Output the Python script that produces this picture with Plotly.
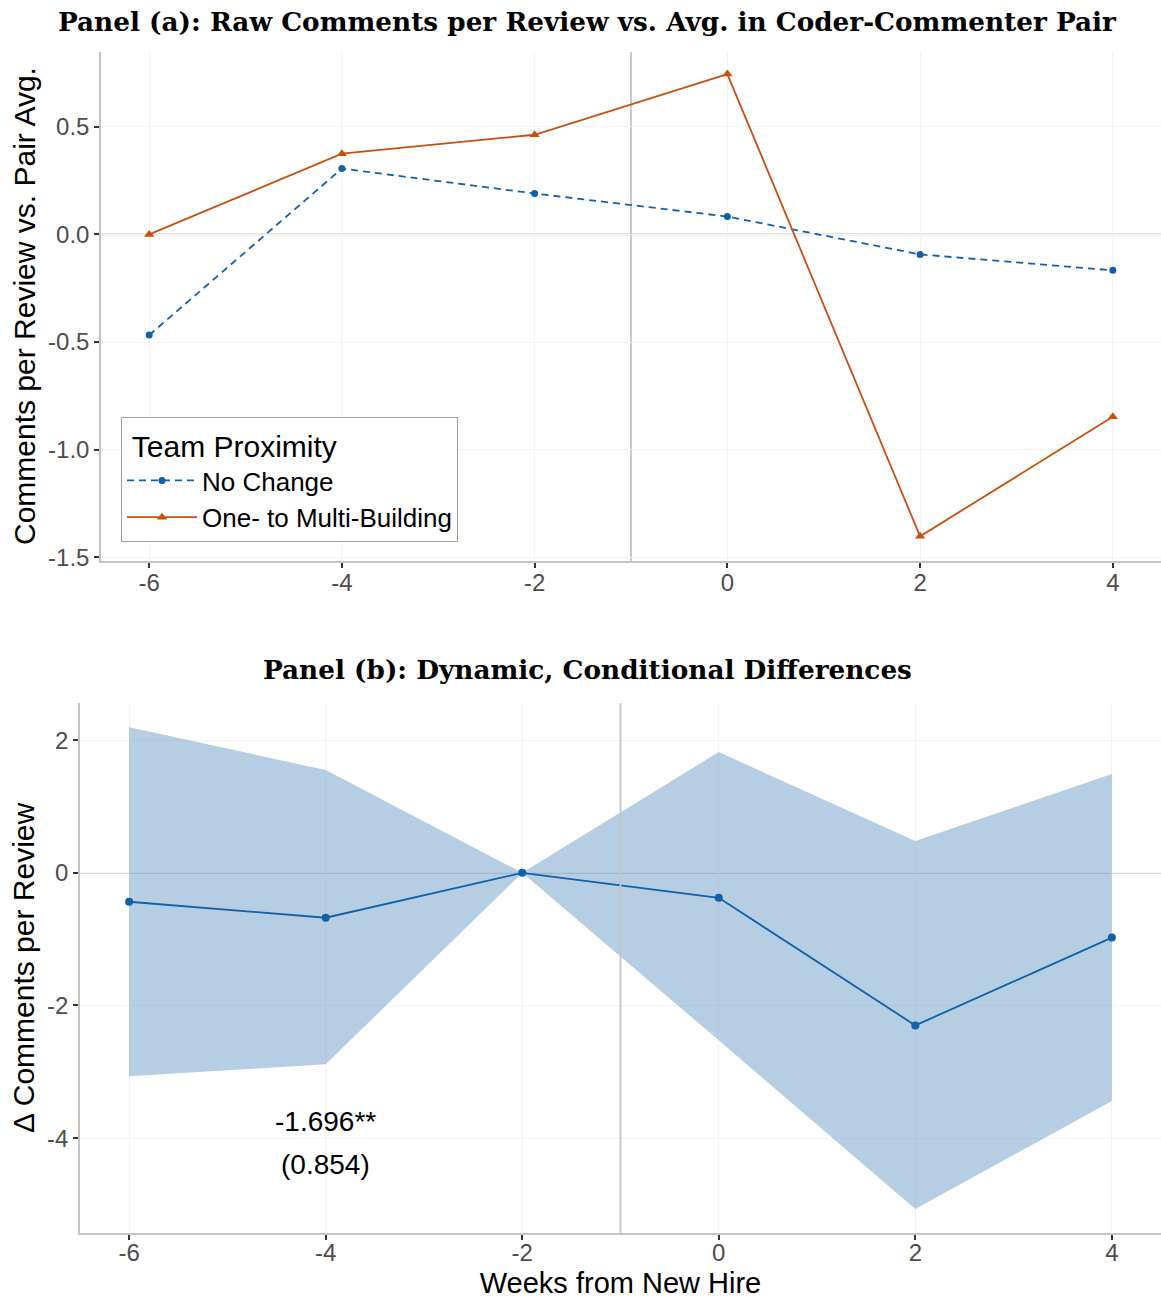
import plotly.graph_objects as go

weeks = [-6, -4, -2, 0, 2, 4]
no_change = [-0.468, 0.306, 0.190, 0.083, -0.093, -0.167]
multi_building = [0.0, 0.375, 0.463, 0.745, -1.403, -0.847]

coef = [-0.436, -0.677, 0.0, -0.376, -2.30, -0.977]
ci_upper = [2.195, 1.549, 0.0, 1.82, 0.481, 1.489]
ci_lower = [-3.068, -2.887, 0.0, -2.526, -5.068, -3.44]

ticks_a = [0.5, 0.0, -0.5, -1.0, -1.5]
tick_labels_a = ["0.5", "0.0", "-0.5", "-1.0", "-1.5"]
ticks_b = [2, 0, -2, -4]
tick_labels_b = ["2", "0", "-2", "-4"]
x_ticks = [-6, -4, -2, 0, 2, 4]
x_tick_labels = ["-6", "-4", "-2", "0", "2", "4"]

BLUE = "#1160A8"
ORANGE = "#C8500E"
RIBBON = "rgba(108,158,200,0.5)"
AXIS = "#C4C4C4"
GRID = "#F3F3F3"
SANS = "Liberation Sans, Arial, sans-serif"
SERIF = "DejaVu Serif, serif"

W, H = 1161, 1300
fig = go.Figure()

# Panel (a)
fig.add_trace(go.Scatter(x=weeks, y=no_change, mode="lines+markers", name="No Change",
                         line=dict(color=BLUE, width=1.8, dash="7px,5px"),
                         marker=dict(symbol="circle", size=7, color=BLUE),
                         xaxis="x", yaxis="y"))
fig.add_trace(go.Scatter(x=weeks, y=multi_building, mode="lines+markers", name="One- to Multi-Building",
                         line=dict(color=ORANGE, width=1.8),
                         marker=dict(symbol="triangle-up", size=9, color=ORANGE),
                         xaxis="x", yaxis="y"))

# Panel (b)
fig.add_trace(go.Scatter(x=weeks, y=ci_upper, mode="lines", line=dict(width=0, color=RIBBON),
                         showlegend=False, hoverinfo="skip", xaxis="x2", yaxis="y2"))
fig.add_trace(go.Scatter(x=weeks, y=ci_lower, mode="lines", line=dict(width=0, color=RIBBON),
                         fill="tonexty", fillcolor=RIBBON,
                         showlegend=False, hoverinfo="skip", xaxis="x2", yaxis="y2"))
fig.add_trace(go.Scatter(x=weeks, y=coef, mode="lines+markers",
                         line=dict(color=BLUE, width=1.8),
                         marker=dict(symbol="circle", size=8, color=BLUE),
                         showlegend=False, xaxis="x2", yaxis="y2"))

axis_common = dict(showline=True, linecolor=AXIS, linewidth=1.5, ticks="outside",
                   ticklen=5, tickcolor="#333333", tickwidth=1.5, gridcolor=GRID, gridwidth=1.2,
                   zeroline=False, mirror=False, automargin=False,
                   tickfont=dict(family=SANS, size=24, color="#4D4D4D"))

fig.update_layout(
    width=W, height=H,
    margin=dict(l=0, r=0, t=0, b=0),
    paper_bgcolor="white", plot_bgcolor="white",
    xaxis=dict(domain=[101 / W, 1.0], anchor="y", range=[-6.5, 4.5],
               tickvals=x_ticks, ticktext=x_tick_labels, ticklabelstandoff=-6, **axis_common),
    yaxis=dict(domain=[1 - 561 / H, 1 - 52 / H], anchor="x", range=[-1.5175, 0.8475],
               tickvals=ticks_a, ticktext=tick_labels_a, **axis_common),
    xaxis2=dict(domain=[80 / W, 1.0], anchor="y2", range=[-6.5, 4.5],
                tickvals=x_ticks, ticktext=x_tick_labels, ticklabelstandoff=-8,
                title=dict(text="Weeks from New Hire", standoff=8,
                           font=dict(family=SANS, size=29, color="black")),
                **axis_common),
    yaxis2=dict(domain=[1 - 1233 / H, 1 - 703 / H], anchor="x2", range=[-5.43, 2.56],
                tickvals=ticks_b, ticktext=tick_labels_b, **axis_common),
    legend=dict(x=121 / W, y=1 - 417 / H, xanchor="left", yanchor="top",
                bordercolor="#A0A0A0", borderwidth=1, bgcolor="white",
                title=dict(text=" Team Proximity ", font=dict(family=SANS, size=30, color="black")),
                font=dict(family=SANS, size=26, color="black"),
                traceorder="normal", itemwidth=70, tracegroupgap=10),
    showlegend=True,
)

# reference lines
for xr, yr in [("x", "y domain"), ("x2", "y2 domain")]:
    fig.add_shape(type="line", xref=xr, yref=yr, x0=-1, x1=-1, y0=0, y1=1,
                  line=dict(color=AXIS, width=1.8), layer="above" if xr == "x2" else "below")
for xr, yr in [("x domain", "y"), ("x2 domain", "y2")]:
    fig.add_shape(type="line", xref=xr, yref=yr, x0=0, x1=1, y0=0, y1=0,
                  line=dict(color=AXIS, width=1.8), layer="below")

# titles
fig.add_annotation(text="<b>Panel (a): Raw Comments per Review vs. Avg. in Coder-Commenter Pair</b>",
                   xref="paper", yref="paper", x=587 / W, y=1 - 21 / H, showarrow=False,
                   font=dict(family=SERIF, size=26.3, color="black"), xanchor="center", yanchor="middle")
fig.add_annotation(text="<b>Panel (b): Dynamic, Conditional Differences</b>",
                   xref="paper", yref="paper", x=587 / W, y=1 - 670 / H, showarrow=False,
                   font=dict(family=SERIF, size=26.3, color="black"), xanchor="center", yanchor="middle")
fig.add_annotation(text="Comments per Review vs. Pair Avg.", xref="paper", yref="paper",
                   x=24 / W, y=1 - 306 / H, textangle=-90, showarrow=False,
                   font=dict(family=SANS, size=30, color="black"), xanchor="center", yanchor="middle")
fig.add_annotation(text="Δ Comments per Review", xref="paper", yref="paper",
                   x=24 / W, y=1 - 968 / H, textangle=-90, showarrow=False,
                   font=dict(family=SANS, size=30, color="black"), xanchor="center", yanchor="middle")

# coefficient annotation
fig.add_annotation(text="-1.696**", xref="x2", yref="y2", x=-4, y=-3.75, showarrow=False,
                   font=dict(family=SANS, size=28, color="black"))
fig.add_annotation(text="(0.854)", xref="x2", yref="y2", x=-4, y=-4.4, showarrow=False,
                   font=dict(family=SANS, size=28, color="black"))

fig.write_html("out.html")
